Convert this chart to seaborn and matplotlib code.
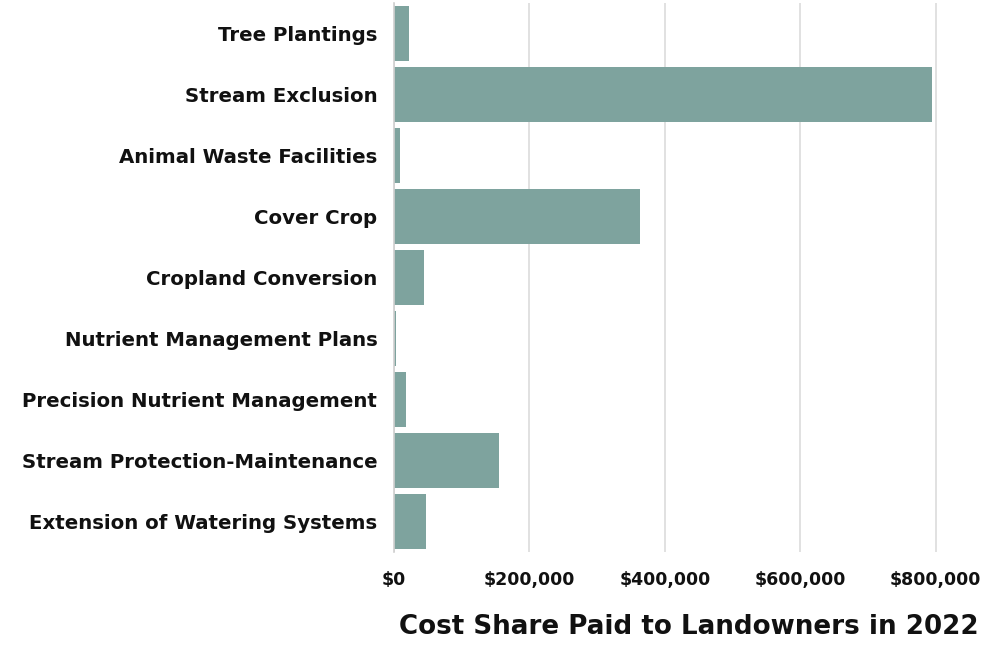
import pandas as pd
import matplotlib.pyplot as plt
import seaborn as sns
from matplotlib.ticker import FuncFormatter

# Data
practices = [
    'Tree Plantings',
    'Stream Exclusion',
    'Animal Waste Facilities',
    'Cover Crop',
    'Cropland Conversion',
    'Nutrient Management Plans',
    'Precision Nutrient Management',
    'Stream Protection-Maintenance',
    'Extension of Watering Systems',
]
cost_share = [22000, 795000, 9000, 363000, 45000, 3000, 17000, 155000, 48000]

data = pd.DataFrame({'Practice': practices, 'Cost Share': cost_share})

sns.set_theme(style="whitegrid")
plt.rcParams['font.family'] = ['DejaVu Sans']

fig = plt.figure(figsize=(10, 6.49), dpi=100)
ax = fig.add_axes([0.394, 0.1495, 0.589, 0.846])

sns.barplot(
    data=data,
    x='Cost Share',
    y='Practice',
    orient='h',
    color='#7ea39e',
    saturation=1,
    width=0.89,
    linewidth=0,
    ax=ax,
)

ax.set_xlim(0, 870000)
ax.set_xticks([0, 200000, 400000, 600000, 800000])
ax.xaxis.set_major_formatter(FuncFormatter(lambda v, p: f'${v:,.0f}'))

# Light vertical gridlines only
ax.grid(axis='x', color='#dcdcdc', linewidth=1.2)
ax.grid(axis='y', visible=False)
for side in ['top', 'right', 'bottom']:
    ax.spines[side].set_visible(False)
ax.spines['left'].set_color('#d0d0d0')
ax.spines['left'].set_linewidth(1.2)

ax.tick_params(axis='y', length=0, pad=12, labelsize=14.2)
ax.tick_params(axis='x', length=0, pad=14, labelsize=12.5)
for lbl in ax.get_yticklabels() + ax.get_xticklabels():
    lbl.set_fontweight('bold')
    lbl.set_color('#111111')

ax.set_ylabel('')
ax.set_xlabel('Cost Share Paid to Landowners in 2022', fontsize=18.8,
              fontweight='bold', color='#111111', labelpad=18)

plt.savefig('out.png', dpi=100)
plt.close()
